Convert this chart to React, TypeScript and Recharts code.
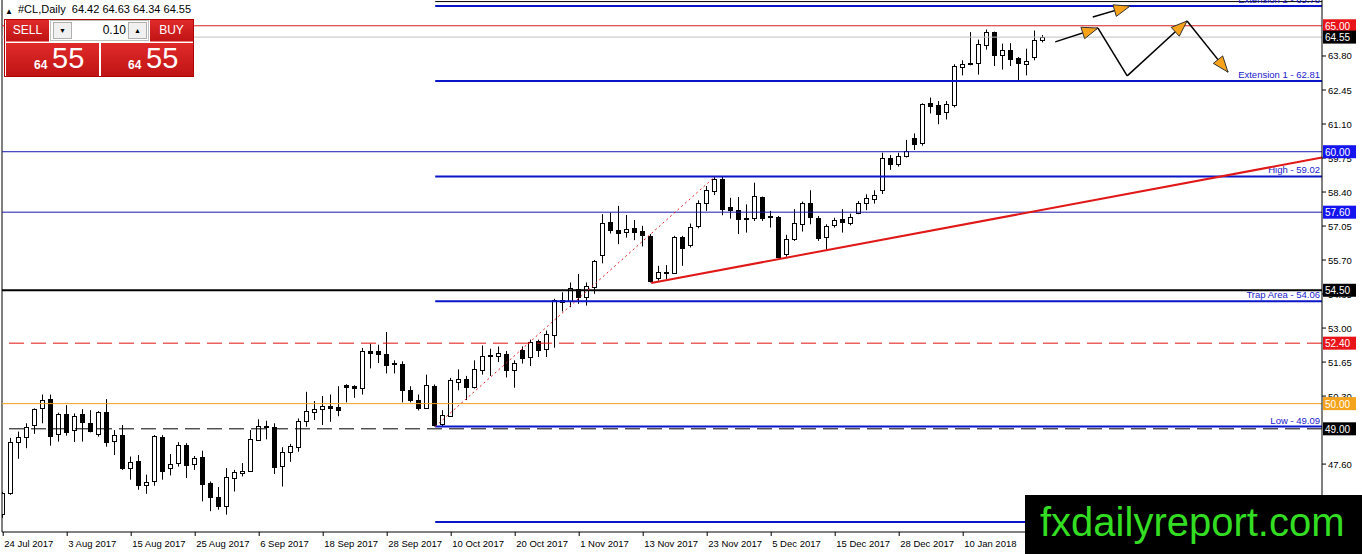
import React from 'react';
import { ComposedChart, Bar, XAxis, YAxis, ReferenceLine } from 'recharts';

// daily candles, 24 Jul 2017 .. 24 Jan 2018
const opens = [
  45.63, 46.46, 48.48, 48.66, 49.15, 49.81, 50.17, 48.78, 49.57, 48.95,
  49.57, 49.25, 48.78, 49.65, 48.52, 48.75, 47.46, 47.73, 46.75, 46.91,
  48.69, 47.44, 47.64, 48.36, 47.6, 47.89, 46.85, 46.29, 45.95, 47.04,
  47.24, 47.34, 48.56, 49.08, 49.06, 47.54, 48.09, 48.29, 49.31, 49.65,
  49.8, 49.9, 49.85, 50.73, 50.69, 50.64, 52.09, 52.09, 51.98, 51.6,
  51.59, 50.53, 50.14, 49.81, 50.69, 49.18, 49.52, 50.86, 50.97, 50.66,
  51.32, 51.9, 51.9, 51.98, 51.35, 52.11, 51.85, 52.48, 52.15, 52.74,
  54.12, 54.06, 54.55, 54.22, 54.64, 55.91, 57.21, 56.88, 56.82, 56.96,
  56.86, 56.66, 54.99, 55.2, 55.19, 56.62, 56.3, 57.06, 57.98, 58.44,
  58.9, 57.81, 57.68, 57.37, 57.36, 58.2, 57.43, 57.41, 55.94, 56.55,
  57.12, 57.95, 57.36, 56.63, 57.09, 57.32, 57.19, 57.58, 57.95, 58.11,
  58.49, 59.74, 59.5, 59.84, 60.56, 60.33, 61.92, 61.84, 61.56, 61.85,
  63.36, 63.53, 63.54, 64.25, 64.77, 63.85, 64.02, 63.72, 63.5, 63.76,
  64.42,
];
const highs = [
  46.5, 48.64, 48.89, 49.22, 49.81, 50.36, 50.36, 49.64, 49.94, 49.61,
  49.78, 49.74, 49.7, 50.18, 48.95, 49.15, 47.9, 47.96, 47.18, 48.75,
  48.75, 48.0, 48.47, 48.43, 47.92, 48.13, 46.91, 46.69, 47.44, 47.37,
  47.64, 48.95, 49.38, 49.32, 49.22, 48.27, 48.4, 49.41, 50.47, 50.1,
  50.3, 50.36, 50.69, 50.77, 50.73, 52.21, 52.38, 52.34, 52.84, 51.72,
  51.68, 50.69, 50.36, 51.15, 50.76, 49.74, 51.02, 51.36, 51.1, 51.72,
  52.31, 52.18, 52.27, 52.09, 51.72, 52.27, 52.54, 52.54, 52.9, 54.16,
  54.42, 54.81, 55.15, 54.81, 55.7, 57.52, 57.58, 57.85, 57.49, 57.29,
  57.06, 56.73, 55.47, 55.5, 56.66, 56.66, 57.15, 58.07, 58.64, 59.0,
  59.02, 58.17, 58.2, 57.91, 58.77, 58.22, 57.65, 57.45, 56.7, 57.72,
  58.02, 58.47, 57.45, 57.12, 57.38, 57.72, 57.54, 58.04, 58.31, 58.47,
  59.96, 59.87, 59.96, 60.47, 60.73, 61.92, 62.15, 62.01, 62.01, 63.47,
  63.63, 64.75, 64.45, 64.85, 64.77, 64.29, 64.31, 63.76, 64.09, 64.81,
  64.63,
];
const lows = [
  45.47, 46.38, 47.81, 48.23, 48.8, 49.22, 48.33, 48.49, 48.73, 48.48,
  48.49, 48.86, 48.69, 48.29, 47.96, 47.37, 46.98, 46.58, 46.42, 46.74,
  46.98, 47.15, 47.5, 47.05, 47.37, 46.12, 45.73, 45.79, 45.59, 46.51,
  47.11, 47.3, 48.52, 48.58, 47.21, 46.71, 47.69, 48.09, 49.08, 49.35,
  49.15, 49.28, 49.5, 50.05, 50.23, 50.36, 51.4, 51.61, 51.2, 51.2,
  50.05, 50.05, 49.73, 49.8, 49.09, 49.1, 49.48, 50.53, 50.14, 50.6,
  51.15, 51.1, 51.65, 51.04, 50.63, 51.59, 51.49, 51.85, 51.85, 52.22,
  53.66, 53.83, 53.96, 53.89, 54.36, 55.57, 56.75, 56.33, 56.59, 56.49,
  56.24, 54.81, 54.88, 54.95, 55.15, 55.47, 56.2, 56.96, 57.65, 58.28,
  57.48, 57.34, 56.73, 56.79, 57.25, 57.25, 56.99, 55.78, 55.83, 56.46,
  56.83, 57.12, 56.46, 56.11, 56.99, 56.79, 57.08, 57.52, 57.68, 57.94,
  58.32, 59.28, 59.41, 59.77, 60.07, 60.24, 61.52, 61.09, 61.28, 61.76,
  63.03, 63.43, 63.06, 64.05, 63.4, 63.26, 63.4, 62.83, 63.03, 63.63,
  64.34,
];
const closes = [
  46.46, 48.48, 48.68, 49.08, 49.77, 50.14, 48.73, 49.57, 48.89, 49.51,
  49.28, 48.92, 49.65, 48.47, 48.75, 47.46, 47.68, 46.75, 46.89, 48.72,
  47.34, 47.6, 48.35, 47.57, 47.83, 46.81, 46.29, 45.92, 47.08, 47.27,
  47.32, 48.58, 49.12, 49.1, 47.5, 48.07, 48.32, 49.31, 49.7, 49.78,
  49.9, 49.81, 49.73, 50.67, 50.63, 52.08, 52.02, 51.98, 51.55, 51.57,
  50.53, 50.14, 49.83, 50.73, 49.15, 49.55, 50.93, 50.99, 50.66, 51.39,
  51.88, 51.92, 52.0, 51.35, 51.63, 51.83, 52.44, 52.11, 52.77, 54.12,
  54.04, 54.59, 54.22, 54.66, 55.67, 57.16, 56.88, 56.77, 56.95, 56.83,
  56.69, 54.88, 55.21, 55.24, 56.62, 56.16, 57.02, 57.95, 58.48, 58.9,
  57.74, 57.68, 57.32, 57.35, 58.24, 57.36, 57.39, 55.83, 56.53, 57.19,
  57.95, 57.41, 56.59, 57.05, 57.28, 57.22, 57.41, 57.95, 58.15, 58.28,
  59.74, 59.52, 59.83, 60.04, 60.3, 61.88, 61.82, 61.48, 61.88, 63.4,
  63.47, 63.48, 64.29, 64.77, 63.85, 64.02, 63.68, 63.52, 63.59, 64.42,
  64.55,
];

const dateTickIdx = [0, 8, 16, 24, 32, 40, 48, 56, 64, 72, 80, 88, 96, 104, 112, 120];
const dateLabels = [
  '24 Jul 2017', '3 Aug 2017', '15 Aug 2017', '25 Aug 2017', '6 Sep 2017', '18 Sep 2017',
  '28 Sep 2017', '10 Oct 2017', '20 Oct 2017', '1 Nov 2017', '13 Nov 2017', '23 Nov 2017',
  '5 Dec 2017', '15 Dec 2017', '28 Dec 2017', '10 Jan 2018',
];
// 48.95 and 65.15 sit fully under the 49.00 / 65.00 tags, so they are left out
const priceTicks = [46.25, 47.6, 50.3, 51.65, 53.0, 54.35, 55.7, 57.05, 58.4, 59.75, 61.1, 62.45, 63.8];

// full width horizontal levels with their price tags
const levelPrices = [65.0, 64.55, 60.0, 57.6, 54.5, 52.4, 50.0, 49.0];
const levelColors = ['#d42020', '#c0c0c0', '#1818b0', '#1818b0', '#000000', '#e01010', '#f0a020', '#000000'];
const levelTagColors = ['#e8141a', '#000000', '#1414f0', '#1414f0', '#000000', '#e8141a', '#f5a21c', '#000000'];
const levelWidths = [1, 1, 1, 1, 2, 1, 1, 1];
const levelDashes = ['', '', '', '', '', '15 7', '', '15 7'];

// levels drawn from the swing low to the right edge
const fibStart = 54;
const fibPrices = [65.96, 65.78, 62.81, 59.02, 54.06, 49.09, 45.3];
const fibLabels = ['', 'Extension 2 - 65.78', 'Extension 1 - 62.81', 'High - 59.02', 'Trap Area - 54.06', 'Low - 49.09', ''];

// projected path (bar index, price)
const pathX = [131.5, 136.85, 140.5, 147.98, 153.1];
const pathY = [64.36, 64.91, 63.01, 65.19, 63.16];
const pathHeads = [true, false, true, true];
const upArrowX = [136.2, 140.85];
const upArrowY = [65.35, 65.78];

const X_MIN = -0.15;
const X_MAX = 164.85;
const Y_MIN = 44.904;
const Y_MAX = 66.023;
const FONT = "'Liberation Sans', Arial, sans-serif";

const rows = opens.map((o, i) => ({
  i,
  o,
  h: highs[i],
  l: lows[i],
  c: closes[i],
  range: [lows[i], highs[i]],
}));

// normal ticks first, tags last so they are painted over the ticks
const axisTicks = [...priceTicks, ...levelPrices];

const Candle = (props: any) => {
  const { x, y, width, height, payload } = props;
  if (payload == null || height == null) return null;
  const { o, h, l, c } = payload;
  const cx = Math.floor(x + width / 2) + 0.5;
  const ppu = height / (h - l || 1);
  const yOf = (v: number) => y + (h - v) * ppu;
  const top = Math.round(yOf(Math.max(o, c))) + 0.5;
  const bot = Math.round(yOf(Math.min(o, c))) + 0.5;
  const up = c >= o;
  return (
    <g>
      <line x1={cx} x2={cx} y1={y} y2={y + height} stroke="#000" strokeWidth={1} />
      <rect x={cx - 2} y={top} width={4} height={Math.max(bot - top, 1)} fill={up ? '#fff' : '#000'} stroke="#000" strokeWidth={1} />
    </g>
  );
};

const DateTick = (props: any) => {
  const { x, y, payload } = props;
  const k = dateTickIdx.indexOf(payload.value);
  return (
    <g>
      <line x1={x} x2={x} y1={y} y2={y + 4} stroke="#000" />
      <text x={x + 1} y={y + 15} fontSize={9.5} fill="#000" textAnchor="start" fontFamily={FONT}>
        {dateLabels[k]}
      </text>
    </g>
  );
};

const PriceTick = (props: any) => {
  const { x, y, payload, index } = props;
  const v = Number(payload.value);
  const lv = index >= priceTicks.length ? levelPrices.indexOf(v) : -1;
  if (lv >= 0) {
    return (
      <g>
        <rect x={x + 1} y={y - 6.5} width={33} height={13} fill={levelTagColors[lv]} />
        <text x={x + 3} y={y + 4} fontSize={10} fill="#fff" fontFamily={FONT}>
          {v.toFixed(2)}
        </text>
      </g>
    );
  }
  return (
    <g>
      <line x1={x} x2={x + 4} y1={y} y2={y} stroke="#000" />
      <text x={x + 6} y={y + 3.5} fontSize={9.5} fill="#000" textAnchor="start" fontFamily={FONT}>
        {v.toFixed(2)}
      </text>
    </g>
  );
};

const fibLabel = (text: string) => (p: any) => {
  const vb = p.viewBox || p;
  return (
    <text x={vb.x + vb.width - 2} y={vb.y - 3} fontSize={9.5} fill="#1a1acd" textAnchor="end" fontFamily={FONT}>
      {text}
    </text>
  );
};

const arrowShape = (head: boolean) => (p: any) => {
  const { x1, y1, x2, y2 } = p;
  const a = Math.atan2(y2 - y1, x2 - x1);
  const cs = Math.cos(a);
  const sn = Math.sin(a);
  const bx = x2 - 16 * cs;
  const by = y2 - 16 * sn;
  const pts = `${x2},${y2} ${bx - 6 * sn},${by + 6 * cs} ${bx + 6 * sn},${by - 6 * cs}`;
  return (
    <g>
      <line x1={x1} y1={y1} x2={x2} y2={y2} stroke="#000" strokeWidth={1.5} />
      {head && <polygon points={pts} fill="#f7a21b" stroke="#333" strokeWidth={1} />}
    </g>
  );
};

const Panel = () => {
  const red = 'linear-gradient(#e02a2a, #c01414)';
  const box: React.CSSProperties = { position: 'absolute', boxSizing: 'border-box' };
  return (
    <div style={{ position: 'absolute', left: 0, top: 0, fontFamily: FONT }}>
      <div style={{ ...box, left: 5, top: 7, fontSize: 8 }}>▲</div>
      <div style={{ ...box, left: 18, top: 3, fontSize: 11, whiteSpace: 'pre' }}>#CL,Daily  64.42 64.63 64.34 64.55</div>
      <div style={{ ...box, left: 4, top: 19, width: 190, height: 58, border: '1px solid #b00000', background: '#fff' }} />
      <div style={{ ...box, left: 6, top: 20, width: 43, height: 22, background: red, borderBottom: '1px solid #f08080', color: '#fff', fontSize: 12, textAlign: 'center', lineHeight: '21px' }}>SELL</div>
      <div style={{ ...box, left: 150, top: 20, width: 43, height: 22, background: red, borderBottom: '1px solid #f08080', color: '#fff', fontSize: 12, textAlign: 'center', lineHeight: '21px' }}>BUY</div>
      <div style={{ ...box, left: 50, top: 20, width: 99, height: 21, border: '1px solid #c0c0c0', background: '#fff' }} />
      <div style={{ ...box, left: 53, top: 22, width: 19, height: 17, border: '1px solid #b0b0b0', background: '#f0f0f0', fontSize: 7, textAlign: 'center', lineHeight: '15px' }}>▼</div>
      <div style={{ ...box, left: 128, top: 22, width: 19, height: 17, border: '1px solid #b0b0b0', background: '#f0f0f0', fontSize: 7, textAlign: 'center', lineHeight: '15px' }}>▲</div>
      <div style={{ ...box, left: 74, top: 22, width: 52, height: 17, fontSize: 12, textAlign: 'right', lineHeight: '17px' }}>0.10</div>
      <div style={{ ...box, left: 6, top: 43, width: 93, height: 33, background: red }}>
        <span style={{ position: 'absolute', left: 28, top: 15, color: '#fff', fontSize: 12, fontWeight: 'bold' }}>64</span>
        <span style={{ position: 'absolute', left: 46, top: -1, color: '#fff', fontSize: 29 }}>55</span>
      </div>
      <div style={{ ...box, left: 101, top: 43, width: 92, height: 33, background: red }}>
        <span style={{ position: 'absolute', left: 27, top: 15, color: '#fff', fontSize: 12, fontWeight: 'bold' }}>64</span>
        <span style={{ position: 'absolute', left: 45, top: -1, color: '#fff', fontSize: 29 }}>55</span>
      </div>
    </div>
  );
};

export default function App() {
  return (
    <div style={{ position: 'absolute', left: 0, top: 0, width: 1362, height: 554, background: '#fff' }}>
      <ComposedChart
        width={1362}
        height={554}
        data={rows}
        margin={{ top: 0, right: 0, bottom: 0, left: 2 }}
        style={{ fontFamily: FONT }}
      >
        <XAxis
          type="number"
          dataKey="i"
          domain={[X_MIN, X_MAX]}
          allowDataOverflow
          ticks={dateTickIdx}
          interval={0}
          tick={<DateTick />}
          tickLine={false}
          tickSize={0}
          tickMargin={0}
          axisLine={{ stroke: '#000' }}
          height={22}
        />
        <YAxis
          orientation="right"
          type="number"
          domain={[Y_MIN, Y_MAX]}
          allowDataOverflow
          ticks={axisTicks}
          interval={0}
          tick={<PriceTick />}
          tickLine={false}
          tickSize={0}
          tickMargin={0}
          axisLine={{ stroke: '#000' }}
          width={40}
        />
        <ReferenceLine x={X_MIN} stroke="#000" />
        {fibPrices.map((p, k) => (
          <ReferenceLine
            key={`fib-${k}`}
            segment={[{ x: fibStart, y: p }, { x: X_MAX, y: p }]}
            stroke={k === 0 ? '#000' : '#0a14c8'}
            strokeWidth={k === 0 ? 1 : 2}
            label={fibLabels[k] ? fibLabel(fibLabels[k]) : undefined}
          />
        ))}
        {levelPrices.map((p, k) => (
          <ReferenceLine
            key={`lvl-${k}`}
            y={p}
            stroke={levelColors[k]}
            strokeWidth={levelWidths[k]}
            strokeDasharray={levelDashes[k] || undefined}
          />
        ))}
        <ReferenceLine
          segment={[{ x: fibStart, y: lows[fibStart] }, { x: 89, y: highs[90] }]}
          stroke="#e02020"
          strokeWidth={1}
          strokeDasharray="2 3"
        />
        <ReferenceLine
          segment={[{ x: 81, y: 54.79 }, { x: X_MAX, y: 59.77 }]}
          stroke="#e01818"
          strokeWidth={2}
        />
        <Bar dataKey="range" shape={<Candle />} barSize={5} isAnimationActive={false} />
        {pathHeads.map((h, k) => (
          <ReferenceLine
            key={`path-${k}`}
            segment={[{ x: pathX[k], y: pathY[k] }, { x: pathX[k + 1], y: pathY[k + 1] }]}
            shape={arrowShape(h)}
          />
        ))}
        <ReferenceLine
          segment={[{ x: upArrowX[0], y: upArrowY[0] }, { x: upArrowX[1], y: upArrowY[1] }]}
          shape={arrowShape(true)}
        />
      </ComposedChart>
      <Panel />
      <div
        style={{
          position: 'absolute',
          left: 1025,
          top: 495,
          width: 337,
          height: 59,
          background: '#000',
          color: '#33dd22',
          fontFamily: FONT,
          fontSize: 40,
          lineHeight: '54px',
          paddingLeft: 15,
          boxSizing: 'border-box',
        }}
      >
        fxdailyreport.com
      </div>
    </div>
  );
}
